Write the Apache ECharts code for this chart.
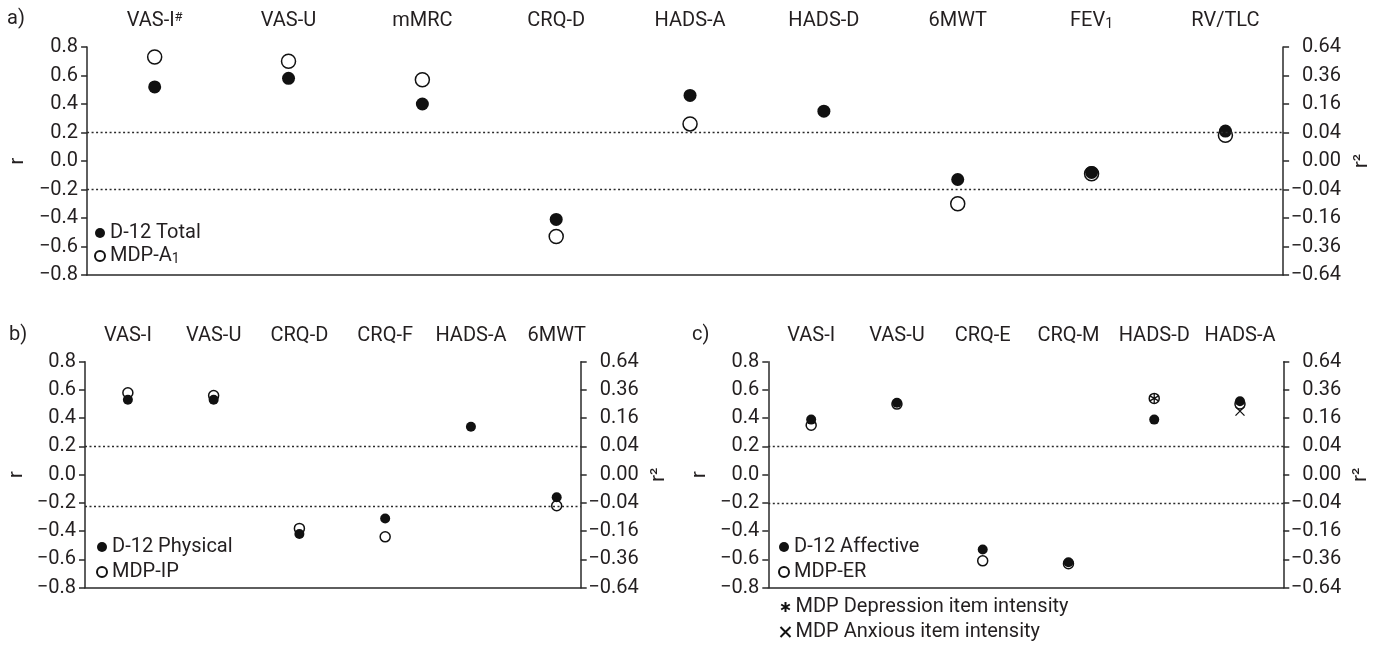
<!DOCTYPE html>
<html><head><meta charset="utf-8">
<script src="https://cdn.jsdelivr.net/npm/echarts@6/dist/echarts.min.js"></script>
<style>html,body{margin:0;padding:0;background:#fff}#c{width:1380px;height:646px}</style>
</head><body><div id="c"></div>
<script>
// ---- data ----
const catsA = ['VAS-I#', 'VAS-U', 'mMRC', 'CRQ-D', 'HADS-A', 'HADS-D', '6MWT', 'FEV1', 'RV/TLC'];
const aTotal = [0.52, 0.58, 0.40, -0.41, 0.46, 0.35, -0.13, -0.08, 0.21];
const aMDPA1 = [0.73, 0.70, 0.57, -0.53, 0.26, null, -0.30, -0.09, 0.18];

const catsB = ['VAS-I', 'VAS-U', 'CRQ-D', 'CRQ-F', 'HADS-A', '6MWT'];
const bPhysical = [0.53, 0.53, -0.42, -0.31, 0.34, -0.16];
const bMDPIP = [0.58, 0.56, -0.38, -0.44, null, -0.22];

const catsC = ['VAS-I', 'VAS-U', 'CRQ-E', 'CRQ-M', 'HADS-D', 'HADS-A'];
const cAffective = [0.39, 0.51, -0.53, -0.62, 0.39, 0.52];
const cMDPER = [0.35, 0.50, -0.61, -0.63, 0.54, 0.50];
const cDepItem = [null, null, null, null, 0.54, null];
const cAnxItem = [null, null, null, null, null, 0.45];

const aLines = [0.2, -0.2];
const bLines = [0.2, -0.22];
const cLines = [0.2, -0.2];

const rTickValues = [-0.8, -0.6, -0.4, -0.2, 0.0, 0.2, 0.4, 0.6, 0.8];
const rTickLabels = ['\u22120.8', '\u22120.6', '\u22120.4', '\u22120.2', '0.0', '0.2', '0.4', '0.6', '0.8'];
const r2TickLabels = ['\u22120.64', '\u22120.36', '\u22120.16', '\u22120.04', '0.00', '0.04', '0.16', '0.36', '0.64'];

// ---- styles ----
const FONT = 'Roboto';
const TXT = '#231f20';
const INK = '#111';
const AX = '#2a2a2a';
const FS = 20;
const rich = {
  sup: { fontSize: 13, verticalAlign: 'top', fontFamily: FONT, color: TXT },
  sub: { fontSize: 14, verticalAlign: 'bottom', fontFamily: FONT, color: TXT }
};
function richName(s) {
  if (s === 'VAS-I#') return 'VAS-I{sup|#}';
  if (s === 'FEV1') return 'FEV{sub|1}';
  if (s === 'MDP-A1') return 'MDP-A{sub|1}';
  return s;
}
function tickIdx(v) {
  let best = 0;
  rTickValues.forEach((t, i) => { if (Math.abs(t - v) < Math.abs(rTickValues[best] - v)) best = i; });
  return best;
}
function pts(arr) {
  const out = [];
  arr.forEach((v, i) => { if (v !== null) out.push([i, v]); });
  return out;
}

const grids = [
  { left: 85, top: 47, width: 1198.3, height: 228 },
  { left: 85, top: 361.7, width: 495.7, height: 226 },
  { left: 768.3, top: 361.7, width: 515, height: 226 }
];
const xRanges = [[-0.505, 8.431], [-0.50, 5.28], [-0.50, 5.505]];
const cats = [catsA, catsB, catsC];

const xAxis = [], yAxis = [];
grids.forEach((g, k) => {
  const [mn, mx] = xRanges[k];
  const c = cats[k];
  xAxis.push({
    gridIndex: k, type: 'value', position: 'top', min: mn, max: mx,
    axisLine: { show: false, onZero: false }, axisTick: { show: false }, splitLine: { show: false },
    axisLabel: {
      customValues: c.map((_, i) => i), margin: 16,
      fontFamily: FONT, fontSize: FS, color: TXT, rich: rich,
      formatter: v => richName(c[Math.round(v)])
    }
  });
  xAxis.push({
    gridIndex: k, type: 'value', position: 'bottom', min: mn, max: mx,
    axisLine: { show: true, onZero: false, lineStyle: { color: AX, width: 1.5 } },
    axisTick: { show: false }, axisLabel: { show: false }, splitLine: { show: false }
  });
  yAxis.push({
    gridIndex: k, type: 'value', position: 'left', min: -0.8, max: 0.8, interval: 0.2,
    name: 'r', nameLocation: 'middle', nameGap: 58, nameRotate: 90,
    nameTextStyle: { fontFamily: FONT, fontSize: FS, color: TXT },
    axisLine: { show: true, onZero: false, lineStyle: { color: AX, width: 1.5 } },
    axisTick: { show: true, length: 6, lineStyle: { color: AX, width: 1.5 } },
    splitLine: { show: false },
    axisLabel: { margin: 9, fontFamily: FONT, fontSize: FS, color: TXT,
      formatter: v => rTickLabels[tickIdx(v)] }
  });
  yAxis.push({
    gridIndex: k, type: 'value', position: 'right', min: -0.8, max: 0.8, interval: 0.2,
    name: 'r\u00B2', nameLocation: 'middle', nameGap: 68, nameRotate: 90,
    nameTextStyle: { fontFamily: FONT, fontSize: FS, color: TXT },
    axisLine: { show: true, onZero: false, lineStyle: { color: AX, width: 1.5 } },
    axisTick: { show: true, length: 6, lineStyle: { color: AX, width: 1.5 } },
    splitLine: { show: false },
    axisLabel: { margin: 58, align: 'right', fontFamily: FONT, fontSize: FS, color: TXT,
      formatter: v => r2TickLabels[tickIdx(v)] }
  });
});

function dotted(lines) {
  return {
    silent: true, symbol: 'none', label: { show: false },
    lineStyle: { color: AX, type: [2, 2.5], width: 1.4, opacity: 1 },
    emphasis: { disabled: true },
    data: lines.map(v => ({ yAxis: v }))
  };
}
const openStyle = { color: '#fff', borderColor: INK, borderWidth: 1.5, opacity: 1 };
const fillStyle = { color: INK, opacity: 1 };

const asteriskPath = 'path://M5,0 L5,10 M0.67,2.5 L9.33,7.5 M0.67,7.5 L9.33,2.5';
const crossPath = 'path://M0,0 L10,10 M0,10 L10,0';
const strokeStyle = { color: 'none', borderColor: INK, borderWidth: 1.3, opacity: 1 };

const series = [
  // panel a
  { name: 'MDP-A1', type: 'scatter', xAxisIndex: 0, yAxisIndex: 0, symbolSize: 14,
    itemStyle: openStyle, data: pts(aMDPA1) },
  { name: 'D-12 Total', type: 'scatter', xAxisIndex: 0, yAxisIndex: 0, symbolSize: 13,
    itemStyle: fillStyle, data: pts(aTotal), markLine: dotted(aLines) },
  // panel b
  { name: 'MDP-IP', type: 'scatter', xAxisIndex: 2, yAxisIndex: 2, symbolSize: 10,
    itemStyle: openStyle, data: pts(bMDPIP) },
  { name: 'D-12 Physical', type: 'scatter', xAxisIndex: 2, yAxisIndex: 2, symbolSize: 10,
    itemStyle: fillStyle, data: pts(bPhysical), markLine: dotted(bLines) },
  // panel c
  { name: 'MDP Anxious item intensity', type: 'scatter', xAxisIndex: 4, yAxisIndex: 4,
    symbol: crossPath, symbolSize: 9, itemStyle: strokeStyle, data: pts(cAnxItem) },
  { name: 'MDP-ER', type: 'scatter', xAxisIndex: 4, yAxisIndex: 4, symbolSize: 10,
    itemStyle: openStyle, data: pts(cMDPER) },
  { name: 'D-12 Affective', type: 'scatter', xAxisIndex: 4, yAxisIndex: 4, symbolSize: 10,
    itemStyle: fillStyle, data: pts(cAffective), markLine: dotted(cLines) },
  { name: 'MDP Depression item intensity', type: 'scatter', xAxisIndex: 4, yAxisIndex: 4,
    symbol: asteriskPath, symbolKeepAspect: true, symbolSize: 10,
    itemStyle: strokeStyle, data: pts(cDepItem) }
];

const legendBase = {
  orient: 'vertical', padding: 0, itemWidth: 10, itemHeight: 10,
  selectedMode: false,
  textStyle: { fontFamily: FONT, fontSize: FS, color: TXT, rich: rich },
  formatter: n => richName(n)
};
const legend = [
  Object.assign({}, legendBase, { data: ['D-12 Total', 'MDP-A1'], left: 94, top: 223, itemGap: 3 }),
  Object.assign({}, legendBase, { data: ['D-12 Physical', 'MDP-IP'], left: 96, top: 537, itemGap: 5 }),
  Object.assign({}, legendBase, { data: ['D-12 Affective', 'MDP-ER'], left: 778, top: 537, itemGap: 5 }),
  Object.assign({}, legendBase, { data: ['MDP Depression item intensity', 'MDP Anxious item intensity'], left: 778, top: 597, itemGap: 5 })
];

const titleStyle = { fontFamily: FONT, fontSize: FS, fontWeight: 'normal', color: TXT };
const option = {
  animation: false,
  backgroundColor: '#fff',
  title: [
    { text: 'a)', left: 7, top: 9, padding: 0, textStyle: titleStyle },
    { text: 'b)', left: 9, top: 325, padding: 0, textStyle: titleStyle },
    { text: 'c)', left: 692, top: 325, padding: 0, textStyle: titleStyle }
  ],
  grid: grids,
  xAxis: xAxis,
  yAxis: yAxis,
  legend: legend,
  series: series
};
const chart = echarts.init(document.getElementById('c'), null, { renderer: 'canvas' });
chart.setOption(option);
</script></body></html>
